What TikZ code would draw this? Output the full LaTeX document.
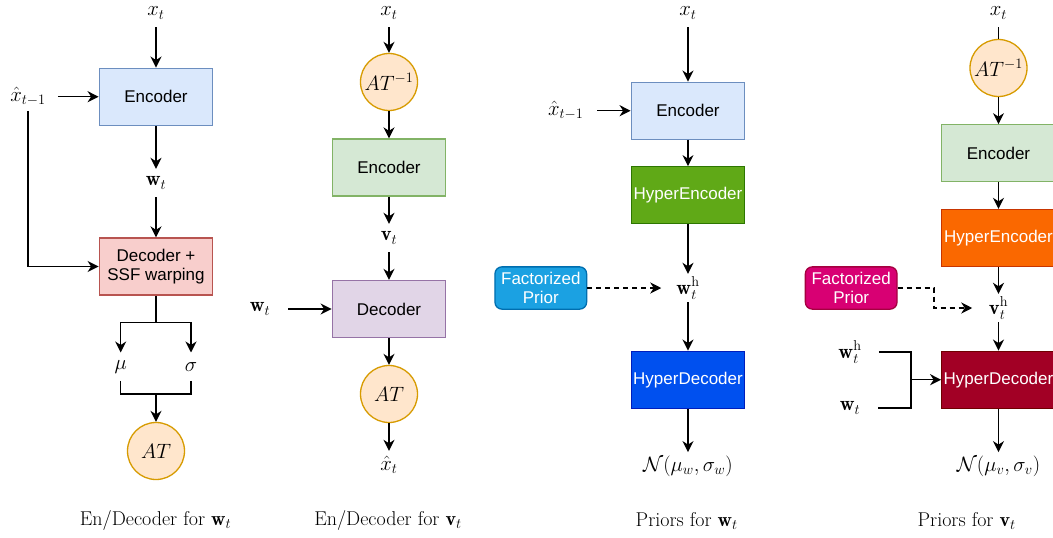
\documentclass[tikz,border=0pt]{standalone}
\usepackage{fontspec}
\newfontfamily\sansbox{Liberation Sans}
\usetikzlibrary{arrows.meta,calc}
\definecolor{bluefill}{HTML}{DAE8FC}\definecolor{bluedraw}{HTML}{6C8EBF}
\definecolor{redfill}{HTML}{F8CECC}\definecolor{reddraw}{HTML}{B85450}
\definecolor{greenfill}{HTML}{D5E8D4}\definecolor{greendraw}{HTML}{82B366}
\definecolor{purplefill}{HTML}{E1D5E7}\definecolor{purpledraw}{HTML}{9673A6}
\definecolor{atfill}{HTML}{FFE6CC}\definecolor{atdraw}{HTML}{D79B00}
\definecolor{hegfill}{HTML}{60A917}\definecolor{hegdraw}{HTML}{2D7600}
\definecolor{hdbfill}{HTML}{0050EF}\definecolor{hdbdraw}{HTML}{001DBC}
\definecolor{fpbfill}{HTML}{1BA1E2}\definecolor{fpbdraw}{HTML}{006EAF}
\definecolor{heofill}{HTML}{FA6800}\definecolor{heodraw}{HTML}{C73500}
\definecolor{fppfill}{HTML}{D80073}\definecolor{fppdraw}{HTML}{A50040}
\definecolor{hdrfill}{HTML}{A20025}\definecolor{hdrdraw}{HTML}{6F0000}
\begin{document}
\begin{tikzpicture}[x=1pt,y=-1pt,
  mathlbl/.style={inner sep=0pt, minimum height=28pt, font=\fontsize{20.5}{24}\selectfont},
  capt/.style={inner sep=0pt, font=\fontsize{20}{24}\selectfont},
  blk/.style={draw, line width=1.3pt, minimum width=113.5pt, minimum height=57pt, inner sep=0pt, align=center, font=\sansbox\fontsize{17}{19.5}\selectfont},
  circ/.style={circle, draw=atdraw, fill=atfill, line width=1.3pt, minimum size=57pt, inner sep=0pt, font=\fontsize{20.5}{24}\selectfont},
  fpbox/.style={draw, rounded corners=7pt, line width=1.3pt, minimum width=91.7pt, minimum height=42.3pt, inner sep=0pt, align=center, text=white, font=\sansbox\fontsize{17}{19.5}\selectfont},
  ln/.style={draw, line width=1.5pt},
  arr/.style={ln, -{Stealth[length=11pt,width=11pt,inset=3.5pt]}},
  dasharr/.style={arr, dash pattern=on 5pt off 4pt}
]
\useasboundingbox (0,0) rectangle (1053,538);
\fill[white] (0,0) rectangle (1053,538);

% ---------- Panel 1 ----------
\node[mathlbl] (xt1) at (156,13) {$x_t$};
\node[blk, fill=bluefill, draw=bluedraw] (enc1) at (156,96.7) {Encoder};
\node[mathlbl] (xp1) at (28,96.7) {$\hat{x}_{t-1}$};
\node[mathlbl] (wt1) at (156,183) {$\mathbf{w}_t$};
\node[blk, fill=redfill, draw=reddraw] (dec1) at (156,266.5) {Decoder +\\SSF warping};
\node[mathlbl] (mu1) at (120.7,366.7) {$\mu$};
\node[mathlbl] (sg1) at (191,366.7) {$\sigma$};
\node[circ] (at1) at (156,451) {$AT$};
\node[capt] (cap1) at (155.5,520) {En/Decoder for $\mathbf{w}_t$};
\coordinate (s1) at (156,322.3);
\coordinate (j1) at (156,394);
\draw[arr] (xt1) -- (enc1);
\draw[arr] ([xshift=12pt]xp1.east) -- (enc1.west);
\draw[arr] (xp1.south) |- (dec1.west);
\draw[arr] (enc1) -- (wt1);
\draw[arr] (wt1) -- (dec1);
\draw[ln] (dec1.south) -- (s1);
\draw[arr] (s1) -| (mu1.north);
\draw[arr] (s1) -| (sg1.north);
\draw[ln] (mu1.south) |- (j1);
\draw[ln] (sg1.south) |- (j1);
\draw[arr] (j1) -- (at1);

% ---------- Panel 2 ----------
\node[mathlbl] (xt2) at (389,13) {$x_t$};
\node[circ] (ai2) at (389,82) {$AT^{-1}$};
\node[blk, fill=greenfill, draw=greendraw] (enc2) at (389,167.5) {Encoder};
\node[mathlbl] (vt2) at (389,238) {$\mathbf{v}_t$};
\node[blk, fill=purplefill, draw=purpledraw] (dec2) at (389,309) {Decoder};
\node[mathlbl] (wt2) at (260,309) {$\mathbf{w}_t$};
\node[circ] (at2) at (389,394) {$AT$};
\node[mathlbl] (xh2) at (389,465) {$\hat{x}_t$};
\node[capt] (cap2) at (388,520) {En/Decoder for $\mathbf{v}_t$};
\draw[arr] (xt2) -- (ai2);
\draw[arr] (ai2) -- (enc2);
\draw[arr] (enc2) -- (vt2);
\draw[arr] (vt2) -- (dec2);
\draw[arr] ([xshift=18pt]wt2.east) -- (dec2.west);
\draw[arr] (dec2) -- (at2);
\draw[arr] (at2) -- (xh2);

% ---------- Panel 3 ----------
\node[mathlbl] (xt3) at (688,13) {$x_t$};
\node[blk, fill=bluefill, draw=bluedraw] (enc3) at (688,110.7) {Encoder};
\node[mathlbl] (xp3) at (565.7,110.7) {$\hat{x}_{t-1}$};
\node[blk, fill=hegfill, draw=hegdraw, text=white] (he3) at (688,195.3) {HyperEncoder};
\node[mathlbl] (wh3) at (688,288) {$\mathbf{w}_t^{\mathrm{h}}$};
\node[fpbox, fill=fpbfill, draw=fpbdraw] (fp3) at (540.8,288) {Factorized\\Prior};
\node[blk, fill=hdbfill, draw=hdbdraw, text=white] (hd3) at (688,379.7) {HyperDecoder};
\node[mathlbl] (n3) at (688,466.3) {$\mathcal{N}(\mu_w,\sigma_w)$};
\node[capt] (cap3) at (686.7,521.3) {Priors for $\mathbf{w}_t$};
\draw[arr] (xt3) -- (enc3);
\draw[arr] ([xshift=13.5pt]xp3.east) -- (enc3.west);
\draw[arr] (enc3) -- (he3);
\draw[arr] (he3) -- (wh3);
\draw[dasharr] (fp3.east) -- ([xshift=-15pt]wh3.west);
\draw[arr] (wh3) -- (hd3);
\draw[arr] (hd3) -- (n3);

% ---------- Panel 4 ----------
\node[mathlbl] (xt4) at (998.5,13) {$x_t$};
\node[circ] (ai4) at (998.5,68) {$AT^{-1}$};
\node[blk, fill=greenfill, draw=greendraw] (enc4) at (998.5,153.3) {Encoder};
\node[blk, fill=heofill, draw=heodraw, text=white] (he4) at (998.5,238) {HyperEncoder};
\node[mathlbl] (vh4) at (998.5,308) {$\mathbf{v}_t^{\mathrm{h}}$};
\node[fpbox, fill=fppfill, draw=fppdraw] (fp4) at (851.2,288) {Factorized\\Prior};
\node[blk, fill=hdrfill, draw=hdrdraw, text=white] (hd4) at (998.5,379.7) {HyperDecoder};
\node[mathlbl] (wh4) at (850,352) {$\mathbf{w}_t^{\mathrm{h}}$};
\node[mathlbl] (wt4) at (850,408) {$\mathbf{w}_t$};
\node[mathlbl] (n4) at (998.5,466.3) {$\mathcal{N}(\mu_v,\sigma_v)$};
\node[capt] (cap4) at (966.7,521.3) {Priors for $\mathbf{v}_t$};
\coordinate (d4) at (934,288);
\coordinate (m4) at (911,379.7);
\draw[ln] (xt4) -- (ai4);
\draw[arr] (ai4) -- (enc4);
\draw[arr] (enc4) -- (he4);
\draw[arr] (he4) -- (vh4);
\draw[arr] (vh4) -- (hd4);
\draw[arr] (hd4) -- (n4);
\draw[dasharr] (fp4.east) -- (d4) |- ([xshift=-16.5pt]vh4.west);
\draw[ln] ([xshift=17pt]wh4.east) -| (m4);
\draw[ln] ([xshift=18pt]wt4.east) -| (m4);
\draw[arr] (m4) -- (hd4.west);
\end{tikzpicture}
\end{document}
